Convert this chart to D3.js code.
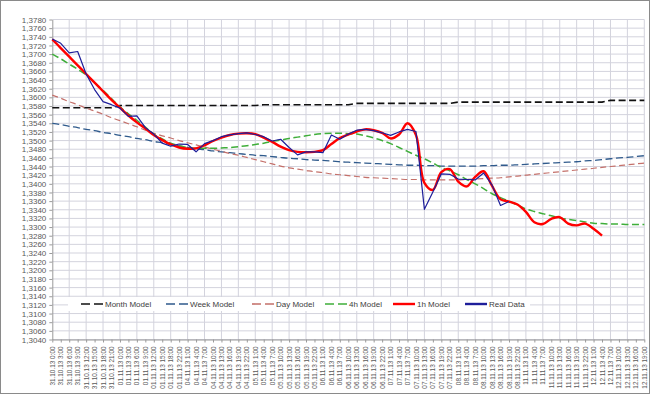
<!DOCTYPE html>
<html><head><meta charset="utf-8">
<script src="https://cdn.jsdelivr.net/npm/d3@7"></script>
<style>body{margin:0;background:#fff}svg{display:block}</style>
</head><body>
<script>
const labels = [
"31.10.13 0:00","31.10.13 3:00","31.10.13 6:00","31.10.13 9:00","31.10.13 12:00","31.10.13 15:00","31.10.13 18:00","31.10.13 21:00",
"01.11.13 0:00","01.11.13 3:00","01.11.13 6:00","01.11.13 9:00","01.11.13 12:00","01.11.13 15:00","01.11.13 18:00","01.11.13 22:00",
"04.11.13 1:00","04.11.13 4:00","04.11.13 7:00","04.11.13 10:00","04.11.13 13:00","04.11.13 16:00","04.11.13 19:00","04.11.13 22:00",
"05.11.13 1:00","05.11.13 4:00","05.11.13 7:00","05.11.13 10:00","05.11.13 13:00","05.11.13 16:00","05.11.13 19:00","05.11.13 22:00",
"06.11.13 1:00","06.11.13 4:00","06.11.13 7:00","06.11.13 10:00","06.11.13 13:00","06.11.13 16:00","06.11.13 19:00","06.11.13 22:00",
"07.11.13 1:00","07.11.13 4:00","07.11.13 7:00","07.11.13 10:00","07.11.13 13:00","07.11.13 16:00","07.11.13 19:00","07.11.13 22:00",
"08.11.13 1:00","08.11.13 4:00","08.11.13 7:00","08.11.13 10:00","08.11.13 13:00","08.11.13 16:00","08.11.13 19:00","08.11.13 22:00",
"11.11.13 1:00","11.11.13 4:00","11.11.13 7:00","11.11.13 10:00","11.11.13 13:00","11.11.13 16:00","11.11.13 19:00","11.11.13 22:00",
"12.11.13 1:00","12.11.13 4:00","12.11.13 7:00","12.11.13 10:00","12.11.13 13:00","12.11.13 16:00","12.11.13 19:00"];

const monthModel = [
1.3576,1.3576,1.3576,1.3576,1.3576,1.3576,1.3576,1.3576,
1.3581,1.3581,1.3581,1.3581,1.3581,1.3581,1.3581,1.3581,1.3581,1.3581,1.3581,1.3581,1.3581,1.3581,1.3581,1.3581,1.3581,
1.3583,1.3583,1.3583,1.3583,1.3583,1.3583,1.3583,1.3583,1.3583,1.3583,1.3583,
1.3586,1.3586,1.3586,1.3586,1.3586,1.3586,1.3586,1.3586,1.3586,1.3586,1.3586,1.3586,
1.3589,1.3589,1.3589,1.3589,1.3589,1.3589,1.3589,1.3589,1.3589,1.3589,1.3589,1.3589,1.3589,1.3589,1.3589,1.3589,1.3589,1.3589,
1.3593,1.3593,1.3593,1.3593,1.3593];

const weekModel = [
1.3540,1.3537,1.3533,1.3530,1.3526,1.3523,1.3519,1.3516,1.3512,1.3509,
1.3505,1.3502,1.3498,1.3495,1.3491,1.3488,1.3484,1.3481,1.3479,1.3476,
1.3474,1.3472,1.3470,1.3468,1.3466,1.3465,1.3463,1.3461,1.3459,1.3458,
1.3456,1.3455,1.3454,1.3453,1.3451,1.3450,1.3449,1.3448,1.3447,1.3446,
1.3445,1.3444,1.3443,1.3443,1.3442,1.3442,1.3441,1.3441,1.3441,1.3441,
1.3441,1.3442,1.3442,1.3443,1.3443,1.3444,1.3445,1.3446,1.3447,1.3448,
1.3449,1.3450,1.3451,1.3453,1.3454,1.3456,1.3458,1.3460,1.3461,1.3463,1.3465];

const dayModel = [
1.3605,1.3598,1.3590,1.3583,1.3575,1.3568,1.3561,1.3553,1.3546,1.3539,
1.3532,1.3524,1.3517,1.3511,1.3506,1.3500,1.3495,1.3490,1.3485,1.3480,
1.3475,1.3470,1.3466,1.3461,1.3456,1.3451,1.3446,1.3441,1.3437,1.3434,
1.3431,1.3428,1.3426,1.3423,1.3421,1.3419,1.3417,1.3415,1.3414,1.3413,
1.3412,1.3411,1.3410,1.3410,1.3409,1.3409,1.3409,1.3409,1.3409,1.3410,
1.3411,1.3412,1.3413,1.3414,1.3416,1.3418,1.3420,1.3422,1.3424,1.3426,
1.3428,1.3430,1.3432,1.3434,1.3436,1.3438,1.3440,1.3442,1.3444,1.3446,1.3448];

const model4h = [
1.3700,1.3689,1.3677,1.3665,1.3652,1.3634,1.3616,1.3597,1.3578,1.3562,
1.3547,1.3531,1.3515,1.3504,1.3494,1.3488,1.3484,1.3482,1.3482,1.3482,
1.3483,1.3484,1.3486,1.3488,1.3491,1.3494,1.3498,1.3501,1.3505,1.3508,
1.3511,1.3514,1.3516,1.3517,1.3517,1.3516,1.3515,1.3511,1.3506,1.3500,
1.3493,1.3484,1.3475,1.3466,1.3458,1.3448,1.3438,1.3430,1.3421,1.3410,
1.3400,1.3389,1.3377,1.3368,1.3360,1.3351,1.3342,1.3336,1.3331,1.3326,
1.3321,1.3318,1.3315,1.3312,1.3309,1.3308,1.3307,1.3307,1.3306,1.3306,1.3306];

const model1h = [
1.3734,1.3714,1.3694,1.3674,1.3654,1.3634,1.3614,1.3594,1.3576,1.3558,
1.3542,1.3528,1.3513,1.3501,1.3491,1.3484,1.3481,1.3482,1.3489,1.3499,
1.3507,1.3513,1.3516,1.3517,1.3515,1.3507,1.3497,1.3486,1.3478,1.3474,
1.3473,1.3474,1.3478,1.3492,1.3506,1.3514,1.3521,1.3526,1.3524,1.3518,
1.3505,1.3514,1.3540,1.3513,1.3402,1.3386,1.3427,1.3434,1.3405,1.3394,
1.3416,1.3429,1.3395,1.3364,1.3359,1.3352,1.3335,1.3311,1.3307,1.3319,
1.3323,1.3308,1.3304,1.3308,1.3296,1.3280,null,null,null,null,null];

const realData = [
1.3735,1.3725,1.3703,1.3706,1.3654,1.3618,1.3590,1.3583,1.3575,1.3556,
1.3557,1.3530,1.3515,1.3494,1.3487,1.3492,1.3491,1.3474,1.3493,1.3500,
1.3509,1.3513,1.3516,1.3518,1.3514,1.3509,1.3499,1.3503,1.3484,1.3467,
1.3474,1.3474,1.3472,1.3513,1.3503,1.3515,1.3524,1.3526,1.3523,1.3518,
1.3512,1.3520,1.3526,1.3521,1.3341,1.3381,1.3423,1.3422,1.3411,1.3410,
1.3409,1.3425,1.3397,1.3350,1.3359,null,null,null,null,null,
null,null,null,null,null,null,null,null,null,null,null];

const yTicks = d3.range(0, 38).map(k => +(1.304 + k * 0.002).toFixed(4));

const series = [
  {name:"Month Model", values:monthModel, color:"#111111", width:1.6, dash:"7,3.5", curve:d3.curveLinear},
  {name:"Week Model",  values:weekModel,  color:"#2f5a8c", width:1.3, dash:"7,3.5", curve:d3.curveMonotoneX},
  {name:"Day Model",   values:dayModel,   color:"#c4706a", width:1.2, dash:"6,3.5", curve:d3.curveMonotoneX},
  {name:"4h Model",    values:model4h,    color:"#3fae3a", width:1.5, dash:"7,3.5", curve:d3.curveMonotoneX},
  {name:"1h Model",    values:model1h,    color:"#ff0000", width:2.4, dash:null,     curve:d3.curveCatmullRom},
  {name:"Real Data",   values:realData,   color:"#1e1e9a", width:1.2, dash:null,     curve:d3.curveLinear}
];

const W = 650, H = 394;
const svg = d3.select("body").append("svg").attr("width", W).attr("height", H);
svg.append("rect").attr("x",0.5).attr("y",0.5).attr("width",W-1).attr("height",H-1)
   .attr("fill","#fff").attr("stroke","#8a8a8a");

const x = d3.scalePoint().domain(labels).range([52.3, 644.3]);
const y = d3.scaleLinear().domain([1.304, 1.378]).range([339.5, 19.5]);

const grid = svg.append("g");
grid.selectAll("line.h").data(yTicks).join("line")
  .attr("x1", 52.3).attr("x2", 644.3)
  .attr("y1", d => y(d)).attr("y2", d => y(d))
  .attr("stroke", "#d3d3dd").attr("stroke-width", 1);
grid.selectAll("line.v").data(labels.filter((d,i) => i % 2 === 0 && i > 0)).join("line")
  .attr("x1", d => x(d)).attr("x2", d => x(d))
  .attr("y1", 19.5).attr("y2", 339.5)
  .attr("stroke", "#d3d3dd").attr("stroke-width", 1);

// y axis
const yAxis = svg.append("g").attr("transform","translate(52.3,0)")
  .call(d3.axisLeft(y).tickValues(yTicks).tickSize(3).tickSizeOuter(0)
        .tickFormat(d => d3.format(".4f")(d).replace(".", ",")));
yAxis.select(".domain").attr("stroke","#9a9a9a");
yAxis.selectAll(".tick line").attr("stroke","#9a9a9a");
yAxis.selectAll("text").attr("font-family","Liberation Sans, Arial, sans-serif")
  .attr("font-size","8px").attr("fill","#595959").attr("x",-6);

// x axis
const xAxis = svg.append("g").attr("transform","translate(0,339.5)")
  .call(d3.axisBottom(x).tickSize(3).tickSizeOuter(0));
xAxis.select(".domain").attr("stroke","#9a9a9a");
xAxis.selectAll(".tick line").attr("stroke","#9a9a9a");
xAxis.selectAll("text")
  .attr("font-family","Liberation Sans, Arial, sans-serif")
  .attr("font-size","6.4px").attr("fill","#595959")
  .attr("transform","rotate(-90)").attr("text-anchor","end")
  .attr("x",-7).attr("y",0).attr("dy","0.32em");

// legend background
const legendG = svg.append("g");
legendG.append("rect").attr("x",68).attr("y",297).attr("width",462).attr("height",14).attr("fill","#fff");

// series
const plot = svg.append("g");
series.forEach(s => {
  const line = d3.line()
    .defined(d => d != null)
    .x((d,i) => x(labels[i]))
    .y(d => y(d))
    .curve(s.curve);
  plot.append("path").datum(s.values)
    .attr("d", line)
    .attr("fill","none")
    .attr("stroke", s.color)
    .attr("stroke-width", s.width)
    .attr("stroke-dasharray", s.dash)
    .attr("stroke-linejoin","round");
});

// legend
const legendX = [81, 166, 252, 325, 393, 465];
series.forEach((s, i) => {
  const g = legendG.append("g").attr("transform", `translate(${legendX[i]},304)`);
  g.append("line").attr("x1",0).attr("x2",22).attr("y1",0).attr("y2",0)
    .attr("stroke", s.color).attr("stroke-width", s.dash ? 1.6 : 2.4)
    .attr("stroke-dasharray", s.dash ? "9,4" : null);
  g.append("text").attr("x",24).attr("y",0).attr("dy","0.33em")
    .attr("font-family","Liberation Sans, Arial, sans-serif").attr("font-size","8px")
    .attr("fill","#404040").text(s.name);
});
</script>
</body></html>
